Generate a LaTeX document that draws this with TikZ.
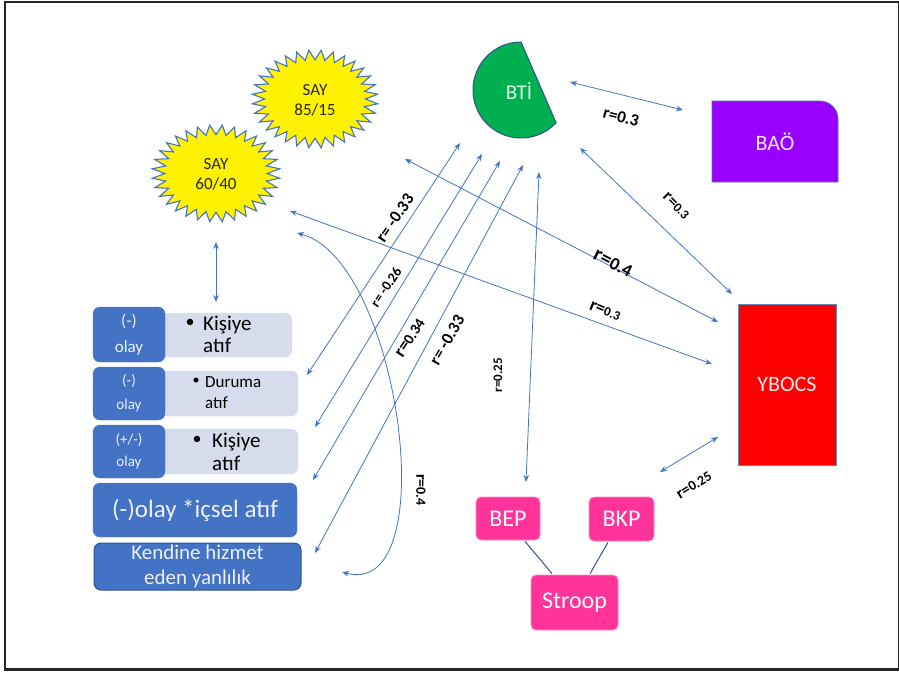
\documentclass[tikz,border=0pt]{standalone}
\usepackage{fontspec}
\setmainfont{Carlito}
\usetikzlibrary{arrows.meta,calc}
\definecolor{lnk}{RGB}{68,114,196}
\definecolor{dkb}{RGB}{68,114,196}
\definecolor{ltb}{RGB}{214,220,235}
\definecolor{grn}{RGB}{0,176,80}
\definecolor{prp}{RGB}{153,0,255}
\definecolor{pnk}{RGB}{255,51,153}
\definecolor{edg}{RGB}{47,82,143}
\definecolor{pale}{RGB}{236,241,250}
\newcommand\fsz[2]{\fontsize{#1}{#2}\selectfont}
\newcommand\sayburst[4]{%
  \draw[fill=yellow, draw=lnk, line width=1.1pt, line join=miter]
    plot[samples=64, domain=0:63, variable=\t]
    ({#1+#3*(0.9-0.1*cos(180*\t))*cos(5.625*\t)},
     {#2+#4*(0.9-0.1*cos(180*\t))*sin(5.625*\t)}) -- cycle;}
\tikzset{
  link/.style={lnk, line width=0.8pt,
    {Stealth[length=7pt,width=5.5pt]}-{Stealth[length=7pt,width=5.5pt]}},
  plain/.style={edg, line width=1pt},
  lab/.style={inner sep=0pt, text=black, font=\bfseries},
  darkbox/.style={fill=dkb, draw=dkb, rounded corners=7pt, text=pale, align=center, inner sep=0pt},
  lightbox/.style={fill=ltb, draw=ltb, rounded corners=7pt, inner sep=0pt},
  pinkbox/.style={fill=pnk, draw=pnk!55!white, line width=0.8pt, rounded corners=5pt,
    text=white, font=\fsz{24}{28}, inner sep=0pt},
  txt/.style={inner sep=0pt, align=left, anchor=west, text=black},
}
\begin{document}
\begin{tikzpicture}[x=1pt, y=-1pt]
\useasboundingbox (0,0) rectangle (899,675);
\draw[line width=2.2pt, black!85] (5,2) rectangle (899,669.5);

% starbursts
\sayburst{315}{99}{63}{49}
\node[inner sep=0pt, align=center, text=black!85, font=\fsz{17}{20}] (say1) at (315,100) {SAY\\85/15};
\sayburst{216}{173.5}{64}{48.5}
\node[inner sep=0pt, align=center, text=black!85, font=\fsz{17}{20}] (say2) at (216,174) {SAY\\60/40};

% BTI
\draw[fill=grn, draw=edg, line width=1pt]
  plot[domain=-90:-317, samples=60, variable=\a] ({521+48*cos(\a)},{90+48*sin(\a)}) -- cycle;
\node[inner sep=0pt, text=white!85!grn, font=\fsz{21}{24}] (bti) at (519,91) {BTİ};

% BAO
\draw[fill=prp, draw=edg!80, line width=0.8pt]
  (712,182) -- (712,101) [rounded corners=18pt] -- (838,101) [sharp corners] -- (838,182) -- cycle;
\node[inner sep=0pt, text=white!90!prp, font=\fsz{22}{26}] (bao) at (775,142) {BAÖ};

% YBOCS
\node[fill=red, draw=edg!70, line width=0.8pt, minimum width=98, minimum height=161,
  text=white!92!red, font=\fsz{22}{26}, inner sep=0pt] (ybocs) at (787,384.5) {YBOCS};

% pink boxes
\node[pinkbox, minimum width=64, minimum height=43] (bep) at (508,518.5) {BEP};
\node[pinkbox, minimum width=65, minimum height=44] (bkp) at (621.5,519) {BKP};
\node[pinkbox, minimum width=87, minimum height=55] (stroop) at (574.5,602.5) {Stroop};
\draw[plain] ($(bep.south)+(17,1)$) -- ($(stroop.north)+(-22.5,-1)$);
\draw[plain] ($(bkp.south)+(-13.5,1)$) -- ($(stroop.north)+(15.5,-1)$);

% left column
\node[lightbox, minimum width=142, minimum height=44] (l1) at (221,335) {};
\node[darkbox, minimum width=72, minimum height=55, font=\fsz{17}{26}] (d1) at (129,334.5) {(-)\\olay};
\node[inner sep=0pt, font=\fsz{18}{20}] (b1) at (190,323) {\textbullet};
\node[txt, font=\fsz{21}{22}] (t1) at (203,334.5) {Kişiye\\atıf};

\node[lightbox, minimum width=148, minimum height=45] (l2) at (224,393.5) {};
\node[darkbox, minimum width=72, minimum height=53, font=\fsz{15}{24}] (d2) at (129,393.5) {(-)\\olay};
\node[inner sep=0pt, font=\fsz{14}{16}] (b2) at (196,381) {\textbullet};
\node[txt, font=\fsz{17}{21}] (t2) at (205,392.5) {Duruma\\atıf};

\node[lightbox, minimum width=148, minimum height=45] (l3) at (224,451.5) {};
\node[darkbox, minimum width=72, minimum height=53, font=\fsz{15}{22}] (d3) at (129,451.5) {(+/-)\\olay};
\node[inner sep=0pt, font=\fsz{18}{20}] (b3) at (197,440) {\textbullet};
\node[txt, font=\fsz{21}{23}] (t3) at (212,451.5) {Kişiye\\atıf};

\node[darkbox, minimum width=204, minimum height=54, font=\fsz{25}{28}] (d4) at (195,510) {(-)olay *içsel atıf};
\node[darkbox, draw=edg, line width=1pt, minimum width=207, minimum height=47, font=\fsz{21}{25}] (d5) at (197.5,566.5) {Kendine hizmet\\eden yanlılık};

% connector ends
\coordinate (a1) at (570,82);   \coordinate (a2) at (683,110);
\coordinate (b1) at (580,148);  \coordinate (b2) at (732,294);
\coordinate (c1) at (405,159);  \coordinate (c2) at (718,322);
\coordinate (e1) at (290,211);  \coordinate (e2) at (712,364);
\coordinate (f1) at (460,143);  \coordinate (f2) at (307,375);
\coordinate (g1) at (482,154);  \coordinate (g2) at (315,427);
\coordinate (h1) at (500,161);  \coordinate (h2) at (313,480);
\coordinate (i1) at (523,165);  \coordinate (i2) at (315,553);
\coordinate (j1) at (539,172);  \coordinate (j2) at (526,482);
\coordinate (k1) at (297,233);  \coordinate (k2) at (342,572);
\coordinate (m1) at (660,472);  \coordinate (m2) at (718,437);
\coordinate (n1) at (216,242);  \coordinate (n2) at (216,302);

\draw[link] (a1) -- (a2);
\draw[link] (b1) -- (b2);
\draw[link] (c1) -- (c2);
\draw[link] (e1) -- (e2);
\draw[link] (f1) -- (f2);
\draw[link] (g1) -- (g2);
\draw[link] (h1) -- (h2);
\draw[link] (i1) -- (i2);
\draw[link] (j1) -- (j2);
\draw[link] (k1) .. controls (400,260) and (445,600) .. (k2);
\draw[link] (m1) -- (m2);
\draw[link] (n1) -- (n2);

% labels
\node[lab, rotate=-15] (la) at (621,117) {\fsz{17}{20}r=0.3};
\node[lab, rotate=-45] (lb) at (676,206) {\fsz{17}{20}r=\fsz{13}{16}0.3};
\node[lab, rotate=-27] (lc) at (613,263) {\fsz{21}{24}r=\fsz{18}{20}0.4};
\node[lab, rotate=-22] (le) at (605,311) {\fsz{18}{20}r=\fsz{13}{16}0.3};
\node[lab, rotate=56] (lf) at (395,218) {\fsz{17}{20}r= -0.33};
\node[lab, rotate=56] (lg) at (386,287) {\fsz{14}{16}r= -0.26};
\node[lab, rotate=57] (lh) at (410,338) {\fsz{18}{20}r=\fsz{15}{18}0.34};
\node[lab, rotate=60] (li) at (447,340) {\fsz{17}{20}r= -0.33};
\node[lab, rotate=90] (lj) at (498,375) {\fsz{13}{16}r=0.25};
\node[lab, rotate=-90] (lk) at (421,490) {\fsz{16}{18}r=\fsz{14}{16}0.4};
\node[lab, rotate=32] (lm) at (694,485) {\fsz{16}{18}r=\fsz{14}{16}0.25};
\end{tikzpicture}
\end{document}
